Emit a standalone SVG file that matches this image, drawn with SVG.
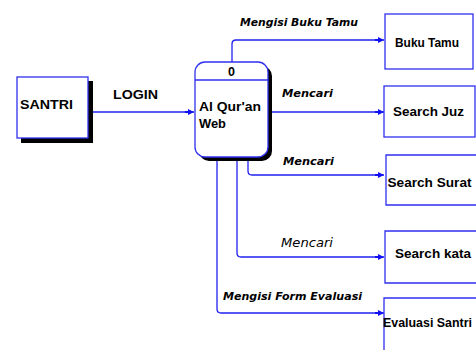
<svg xmlns="http://www.w3.org/2000/svg" width="476" height="350" viewBox="0 0 476 350">
<defs>
<marker id="arr" markerWidth="10" markerHeight="8" refX="9" refY="4" orient="auto" markerUnits="userSpaceOnUse">
<path d="M0,3 L3,3 L3,1 L9,4 L3,7 L3,5 L0,5 Z" fill="#1010f0"/>
</marker>
</defs>
<style>
.box{fill:#fff;stroke:#3030f0;stroke-width:1.3}
.shadow{fill:#000}
.t{font-family:"Liberation Sans",Arial,sans-serif;font-weight:bold;font-size:12.5px;fill:#000}
.lbl{font-family:"DejaVu Sans",sans-serif;font-weight:bold;font-style:italic;font-size:11px;fill:#000}
.lbl2{font-family:"DejaVu Sans",sans-serif;font-style:italic;font-size:12px;fill:#000}
.c{fill:none;stroke:#2020f0;stroke-width:1.3;marker-end:url(#arr)}
</style>
<rect width="476" height="350" fill="#fff"/>
<g id="connectors">
<path class="c" d="M90,112 H194"/>
<path class="c" d="M232,62 V44 Q232,40 236,40 H384"/>
<path class="c" d="M268,112 H384"/>
<path class="c" d="M248,157 V171 Q248,175 252,175 H384"/>
<path class="c" d="M237,157 V253 Q237,257 241,257 H384"/>
<path class="c" d="M217,157 V309 Q217,313 221,313 H384"/>
<text class="t" x="113" y="99" textLength="45" lengthAdjust="spacingAndGlyphs">LOGIN</text>
<text class="lbl" x="240" y="26" textLength="118" lengthAdjust="spacingAndGlyphs">Mengisi Buku Tamu</text>
<text class="lbl" x="282" y="97" textLength="51" lengthAdjust="spacingAndGlyphs">Mencari</text>
<text class="lbl" x="283" y="165" textLength="51" lengthAdjust="spacingAndGlyphs">Mencari</text>
<text class="lbl2" x="281" y="247" textLength="52" lengthAdjust="spacingAndGlyphs">Mencari</text>
<text class="lbl" x="223" y="300" textLength="139" lengthAdjust="spacingAndGlyphs">Mengisi Form Evaluasi</text>
</g>
<g id="santri">
<rect class="shadow" x="21" y="81" width="72" height="62"/>
<rect class="box" x="17" y="77" width="71" height="61"/>
<text class="t" x="20" y="109" textLength="53" lengthAdjust="spacingAndGlyphs">SANTRI</text>
</g>
<g id="process">
<rect class="shadow" x="199" y="66" width="73" height="95" rx="10"/>
<rect class="box" x="195" y="62" width="73" height="95" rx="10"/>
<line x1="195" y1="80" x2="268" y2="80" stroke="#3030f0" stroke-width="1.3"/>
<text class="t" x="231.5" y="76" text-anchor="middle">0</text>
<text class="t" x="199" y="111" textLength="62" lengthAdjust="spacingAndGlyphs">Al Qur'an</text>
<text class="t" x="199" y="128" textLength="27" lengthAdjust="spacingAndGlyphs">Web</text>
</g>
<g id="bukutamu">
<rect class="box" x="385" y="14" width="88" height="55"/>
<text class="t" x="395" y="47" textLength="64" lengthAdjust="spacingAndGlyphs">Buku Tamu</text>
</g>
<g id="searchjuz">
<rect class="box" x="384" y="86" width="91" height="51"/>
<text class="t" x="393" y="116" textLength="71" lengthAdjust="spacingAndGlyphs">Search Juz</text>
</g>
<g id="searchsurat">
<path class="box" d="M476,155 H386 V205 H476"/>
<text class="t" x="387.5" y="187" textLength="84" lengthAdjust="spacingAndGlyphs">Search Surat</text>
</g>
<g id="searchkata">
<path class="box" d="M476,231 H385 V283 H476"/>
<text class="t" x="395" y="258" textLength="76" lengthAdjust="spacingAndGlyphs">Search kata</text>
</g>
<g id="evaluasi">
<path class="box" d="M476,298 H384 V350"/>
<text class="t" x="383" y="327" textLength="89" lengthAdjust="spacingAndGlyphs">Evaluasi Santri</text>
</g>
</svg>
